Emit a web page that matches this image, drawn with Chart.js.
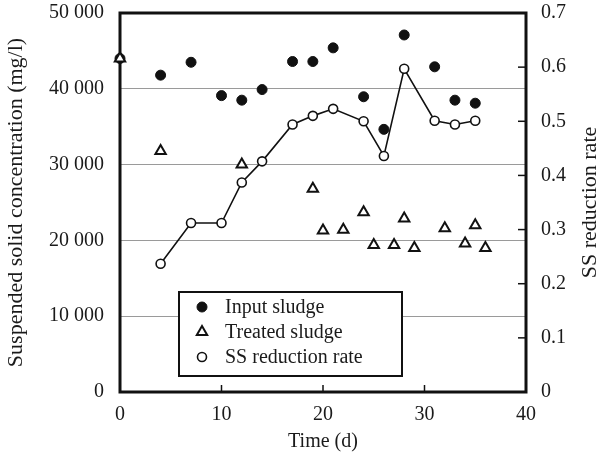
<!DOCTYPE html>
<html>
<head>
<meta charset="utf-8">
<script src="https://cdn.jsdelivr.net/npm/chart.js@4"></script>
<style>
  body { margin: 0; background: #fff; }
</style>
</head>
<body>
<canvas id="chart" width="606" height="459"></canvas>
<script>
// Data
const inputDays = [0, 4, 7, 10, 12, 14, 17, 19, 21, 24, 26, 28, 31, 33, 35];
const inputValues = [44000, 41800, 43500, 39100, 38500, 39900, 43600, 43600, 45400, 38950, 34650, 47100, 42900, 38500, 38100];

const treatedDays = [0, 4, 12, 19, 20, 22, 24, 25, 27, 28, 29, 32, 34, 35, 36];
const treatedValues = [44000, 31800, 30000, 26800, 21300, 21400, 23700, 19400, 19400, 22900, 19000, 21600, 19600, 22000, 19000];

const rateDays = [4, 7, 10, 12, 14, 17, 19, 21, 24, 26, 28, 31, 33, 35];
const rateValues = [0.237, 0.312, 0.312, 0.387, 0.426, 0.494, 0.510, 0.523, 0.500, 0.436, 0.597, 0.501, 0.494, 0.501];

const legendLabels = ["Input sludge", "Treated sludge", "SS reduction rate"];

const toPoints = (xs, ys) => xs.map((x, i) => ({ x: x, y: ys[i] }));
const spaced = (v) => String(v).replace(/\B(?=(\d{3})+(?!\d))/g, " ");

const serif = "'Liberation Serif', 'Times New Roman', serif";
Chart.defaults.font.family = serif;
Chart.defaults.color = "#1a1a1a";

// thick frame plus inward tick marks, right title reading upwards
const framePlugin = {
    id: "frame",
    beforeDatasetsDraw(chart) {
        const { ctx, chartArea: a, scales } = chart;
        ctx.save();
        ctx.strokeStyle = "#111";
        ctx.lineWidth = 1.5;
        scales.x.ticks.forEach((t) => {
            if (t.value <= 0 || t.value >= 40) return;
            const px = scales.x.getPixelForValue(t.value);
            ctx.beginPath();
            ctx.moveTo(px, a.bottom);
            ctx.lineTo(px, a.bottom - 7);
            ctx.stroke();
        });
        scales.y2.ticks.forEach((t) => {
            if (t.value <= 0 || t.value >= 0.7) return;
            const py = scales.y2.getPixelForValue(t.value);
            ctx.beginPath();
            ctx.moveTo(a.right, py);
            ctx.lineTo(a.right - 8, py);
            ctx.stroke();
        });
        ctx.lineWidth = 3;
        ctx.strokeRect(a.left, a.top, a.right - a.left, a.bottom - a.top);

        ctx.translate(590, (a.top + a.bottom) / 2);
        ctx.rotate(-Math.PI / 2);
        ctx.font = "22px " + serif;
        ctx.fillStyle = "#1a1a1a";
        ctx.textAlign = "center";
        ctx.textBaseline = "middle";
        ctx.fillText("SS reduction rate", 0, 0);
        ctx.restore();
    },
};

// legend box inside the plot
const legendPlugin = {
    id: "boxLegend",
    afterDraw(chart) {
        const { ctx } = chart;
        const order = [2, 1, 0];
        ctx.save();
        ctx.fillStyle = "#fff";
        ctx.fillRect(179, 292, 223, 84);
        ctx.strokeStyle = "#111";
        ctx.lineWidth = 2;
        ctx.strokeRect(179, 292, 223, 84);
        ctx.font = "20px " + serif;
        ctx.textBaseline = "middle";
        order.forEach((di, i) => {
            const ds = chart.data.datasets[di];
            const y = 307 + i * 25;
            ctx.fillStyle = ds.backgroundColor;
            ctx.strokeStyle = ds.borderColor;
            ctx.lineWidth = ds.borderWidth;
            Chart.helpers.drawPoint(ctx, { pointStyle: ds.pointStyle, radius: ds.pointRadius, borderWidth: ds.borderWidth }, 202, y);
            ctx.fillStyle = "#1a1a1a";
            ctx.fillText(legendLabels[i], 225, y + 1);
        });
        ctx.restore();
    },
};

new Chart(document.getElementById("chart"), {
    type: "scatter",
    data: {
        datasets: [
            {
                label: legendLabels[2],
                data: toPoints(rateDays, rateValues),
                yAxisID: "y2",
                showLine: true,
                borderColor: "#111",
                backgroundColor: "#fff",
                borderWidth: 1.6,
                pointStyle: "circle",
                pointRadius: 4.5,
                pointBorderWidth: 1.6,
                order: 0,
                clip: false,
            },
            {
                label: legendLabels[1],
                data: toPoints(treatedDays, treatedValues),
                yAxisID: "y",
                borderColor: "#111",
                backgroundColor: "#fff",
                borderWidth: 2,
                pointStyle: "triangle",
                pointRadius: 6,
                order: 1,
                clip: false,
            },
            {
                label: legendLabels[0],
                data: toPoints(inputDays, inputValues),
                yAxisID: "y",
                borderColor: "#111",
                backgroundColor: "#111",
                borderWidth: 1,
                pointStyle: "circle",
                pointRadius: 5,
                order: 2,
                clip: false,
            },
        ],
    },
    options: {
        responsive: false,
        animation: false,
        layout: { padding: { top: 13, left: 0, right: 0, bottom: 0 } },
        plugins: {
            legend: { display: false },
            tooltip: { enabled: false },
        },
        scales: {
            x: {
                type: "linear",
                min: 0,
                max: 40,
                ticks: { stepSize: 10, padding: 3, font: { size: 20 }, maxRotation: 0 },
                grid: { display: false },
                border: { display: false },
                title: { display: true, text: "Time (d)", font: { size: 20 }, padding: { top: 0, bottom: 5 } },
                afterFit: (s) => { s.height = 67; s.paddingLeft = 0; s.paddingRight = 0; },
            },
            y: {
                position: "left",
                min: 0,
                max: 50000,
                ticks: { stepSize: 10000, padding: 16, font: { size: 20 }, callback: (v) => spaced(v) },
                grid: { color: "#9a9a9a", lineWidth: 1, drawTicks: false },
                border: { display: false },
                title: { display: true, text: "Suspended solid concentration (mg/l)", font: { size: 22 }, padding: { top: 3, bottom: 0 } },
                afterFit: (s) => { s.width = 120; s.paddingTop = 0; s.paddingBottom = 0; },
            },
            y2: {
                position: "right",
                min: 0,
                max: 0.7,
                ticks: { stepSize: 0.1, padding: 15, font: { size: 20 }, callback: (v) => (v === 0 ? "0" : v.toFixed(1)) },
                grid: { display: false, drawTicks: false },
                border: { display: false },
                afterFit: (s) => { s.width = 80; s.paddingTop = 0; s.paddingBottom = 0; },
            },
        },
    },
    plugins: [framePlugin, legendPlugin],
});
</script>
</body>
</html>
